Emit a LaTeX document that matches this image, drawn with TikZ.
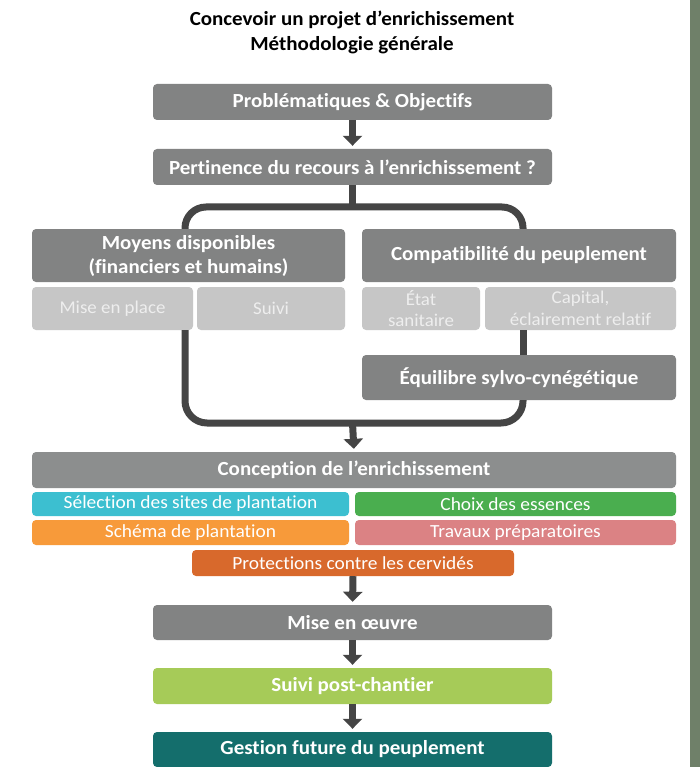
\documentclass[tikz,border=0pt]{standalone}
\usepackage{fontspec}
\setmainfont{Carlito}[FakeStretch=1.05, Ligatures=NoCommon]
\usetikzlibrary{arrows.meta,calc}
\definecolor{dgray}{HTML}{828383}
\definecolor{cgray}{HTML}{8C8E8E}
\definecolor{lgray}{HTML}{C6C6C6}
\definecolor{ltext}{HTML}{EEEEEE}
\definecolor{conn}{HTML}{454545}
\definecolor{ccyan}{HTML}{3CBFD0}
\definecolor{cgreen}{HTML}{4AAE4F}
\definecolor{corange}{HTML}{F79A3A}
\definecolor{cpink}{HTML}{DB8284}
\definecolor{cdorange}{HTML}{D8692C}
\definecolor{clgreen}{HTML}{A6CB58}
\definecolor{cteal}{HTML}{146E6C}
\definecolor{strip}{HTML}{6F8069}
\tikzset{
  box/.style={fill=dgray, rounded corners=4pt, text=white, align=center, inner sep=0pt, font=\fontsize{20}{24}\selectfont\bfseries},
  subbox/.style={fill=lgray, rounded corners=4pt, text=ltext, align=center, inner sep=0pt, font=\fontsize{18}{21.5}\selectfont},
  colbox/.style={rounded corners=4pt, text=white, align=center, inner sep=0pt, font=\fontsize{18.5}{21}\selectfont},
  wire/.style={draw=conn, line width=7pt},
  flow/.style={draw=conn, line width=7pt, -{Triangle[width=19pt,length=10pt]}, shorten >=3pt},
}
\begin{document}
\begin{tikzpicture}[x=1pt,y=-1pt]
\useasboundingbox (0,0) rectangle (700,767);
\fill[white] (0,0) rectangle (700,767);
\fill[strip] (690,0) rectangle (700,767);

\node[font=\fontsize{20}{25}\selectfont\bfseries, text=black, align=center] (title) at (352,32.5) {Concevoir un projet d’enrichissement\\Méthodologie générale};

\coordinate (tl) at (185,207);
\coordinate (tr) at (523,207);
\coordinate (bl) at (185,423);
\coordinate (br) at (523,423);

\node[box, minimum width=399pt, minimum height=36pt] (prob) at (352.5,102) {Problématiques \& Objectifs};
\node[box, minimum width=399pt, minimum height=36pt] (pert) at (352.5,167) {Pertinence du recours à l’enrichissement ?};

\node[box, minimum width=313pt, minimum height=53pt] (moyens) at (188.5,255.5) {Moyens disponibles\\(financiers et humains)};
\node[subbox, minimum width=161pt, minimum height=43pt] (mep) at (112.5,308.5) {Mise en place};
\node[subbox, minimum width=148pt, minimum height=43pt] (suivi) at (271,308.5) {Suivi};

\node[box, minimum width=314pt, minimum height=53pt] (compat) at (519,255.5) {Compatibilité du peuplement};
\node[subbox, minimum width=118pt, minimum height=43pt] (etat) at (421,308.5) {État\\sanitaire};
\node[subbox, minimum width=191pt, minimum height=43pt] (capital) at (580.5,308.5) {Capital,\\éclairement relatif};
\node[box, minimum width=314pt, minimum height=45pt] (equil) at (519,377.5) {Équilibre sylvo-cynégétique};

\node[box, fill=cgray, minimum width=644pt, minimum height=36pt] (concep) at (354,470) {Conception de l’enrichissement};
\node[colbox, fill=ccyan, minimum width=317pt, minimum height=24pt] (sel) at (190.5,504) {Sélection des sites de plantation};
\node[colbox, fill=cgreen, minimum width=321pt, minimum height=24pt] (choix) at (515.5,504) {Choix des essences};
\node[colbox, fill=corange, minimum width=317pt, minimum height=25pt] (schema) at (190.5,532.5) {Schéma de plantation};
\node[colbox, fill=cpink, minimum width=321pt, minimum height=25pt] (trav) at (515.5,532.5) {Travaux préparatoires};
\node[colbox, fill=cdorange, minimum width=322pt, minimum height=26pt] (prot) at (353,563) {Protections contre les cervidés};

\node[box, minimum width=399pt, minimum height=35pt] (mise) at (352.5,622.5) {Mise en œuvre};
\node[box, fill=clgreen, minimum width=399pt, minimum height=36pt] (spc) at (352.5,686) {Suivi post-chantier};
\node[box, fill=cteal, minimum width=399pt, minimum height=35pt] (gest) at (352.5,749.5) {Gestion future du peuplement};

\draw[wire] (pert.south) -- (pert.south |- tl);
\draw[wire, rounded corners=21pt] (tl |- moyens.north) -- (tl) -- (tr) -- (tr |- compat.north);
\draw[wire, rounded corners=22pt] (bl |- mep.south) -- (bl) -- (br) -- (br |- equil.south);
\draw[wire] (br |- capital.south) -- (br |- equil.north);
\draw[flow] (pert.south |- bl) -- (concep.north);
\draw[flow] (prob.south) -- (pert.north);
\draw[flow] (prot.south) -- (mise.north);
\draw[flow] (mise.south) -- (spc.north);
\draw[flow] (spc.south) -- (gest.north);
\end{tikzpicture}
\end{document}
